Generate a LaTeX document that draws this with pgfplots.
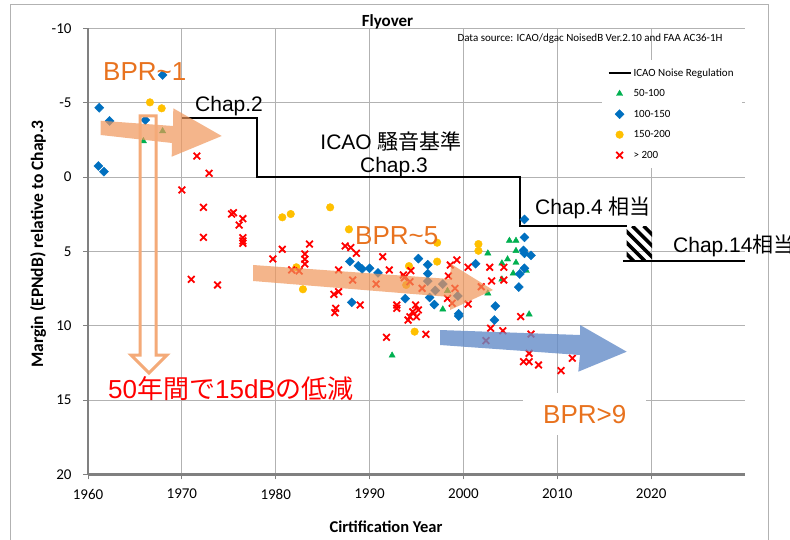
\documentclass[border=0pt]{standalone}
\usepackage{pgfplots}
\pgfplotsset{compat=1.18}
\usepackage{fontspec}
\setmainfont{Liberation Sans}
\newfontfamily\calibri{Carlito}
\newfontfamily\jp{Noto Sans CJK JP}
\definecolor{cgreen}{RGB}{0,176,80}
\definecolor{cblue}{RGB}{0,112,192}
\definecolor{cyellow}{RGB}{255,192,0}
\definecolor{cred}{RGB}{255,0,0}
\definecolor{bpr}{RGB}{232,114,30}
\definecolor{oarrow}{RGB}{240,150,90}
\definecolor{oline}{RGB}{244,170,120}
\definecolor{barrow}{RGB}{100,140,200}
\definecolor{gridc}{RGB}{178,178,178}
\definecolor{axc}{RGB}{128,128,128}
\begin{document}
\begin{tikzpicture}
\useasboundingbox (0,0) rectangle (790pt,539pt);
\fill[white] (0,0) rectangle (790pt,539pt);
\begin{scope}[x=1pt,y=-1pt,shift={(0pt,539pt)}]
\draw[gridc, line width=1pt] (10,5) rectangle (768,548);
\end{scope}
\begin{axis}[
 scale only axis, width=657pt, height=446.1pt,
 at={(88pt,64.6pt)}, anchor=south west,
 xmin=1960, xmax=2030, ymin=-10, ymax=20, y dir=reverse,
 xtick={1960,1970,...,2020}, ytick={-10,-5,...,20},
 grid=major, major grid style={draw=gridc, line width=0.9pt},
 axis x line*=bottom, axis y line*=left,
 axis line style={draw=axc, line width=2.2pt, -},
 tick style={draw=axc, line width=1pt},
 tick align=outside, major tick length=5pt,
 ticklabel style={font=\calibri\fontsize{15}{18}\selectfont},
 xticklabel style={yshift=-6pt},
 yticklabel style={xshift=-8pt},
 /pgf/number format/assume math mode=true,
 /pgf/number format/1000 sep={},
 clip=false,
 legend style={at={(axis cs:2014.7,-7.87)}, anchor=north west, draw=none, fill=white, inner sep=6pt, row sep=6.5pt, column sep=0pt, font=\calibri\fontsize{11}{13}\selectfont, nodes={inner sep=2pt, text height=8pt, text depth=2pt}},
 legend cell align=left,
 legend image code/.code={\draw[mark repeat=2,mark phase=2,#1] plot coordinates {(0pt,0pt) (11pt,0pt) (22pt,0pt)};},
]
\addplot[black, line width=2pt] coordinates {(1970,-4) (1978,-4) (1978,0) (2006,0) (2006,3.3) (2017.4,3.3)};
\addlegendentry{ICAO Noise Regulation}
\addplot[only marks, mark=triangle*, mark size=3.6pt, color=cgreen] table {
x y
1967.95 -3.09
1965.9 -2.42
1992.4 12.0
1997.8 8.9
1998.3 7.65
2004.9 4.28
2005.6 4.28
2002.6 5.13
2005.6 4.96
2004.1 5.80
2004.7 5.53
2005.6 5.76
2005.3 6.48
2006.7 6.30
2004.1 6.88
2002.6 7.82
2007.0 9.23
};
\addlegendentry{50-100}
\addplot[only marks, mark=square*, mark options={rotate=45}, mark size=3.2pt, color=cblue] table {
x y
1967.95 -6.86
1961.2 -4.66
1962.3 -3.77
1966.1 -3.83
1961.1 -0.74
1961.7 -0.36
1987.9 5.68
1988.8 5.98
1989.2 6.18
1990.0 6.14
1990.9 6.45
1988.1 8.43
1993.8 8.18
1995.2 5.49
1996.2 5.9
1996.2 6.5
1996.2 7.0
1997.0 7.63
1997.8 7.2
1996.4 8.1
1996.9 8.58
1999.4 8.0
1999.5 9.2
1999.5 9.35
2001.3 5.83
2003.4 8.68
2003.3 9.62
2006.5 2.85
2006.5 4.06
2006.4 4.93
2006.5 5.13
2007.2 5.27
2006.5 6.14
2006.0 6.52
2005.9 7.4
};
\addlegendentry{100-150}
\addplot[only marks, mark=*, mark size=3.8pt, color=cyellow] table {
x y
1966.6 -5.02
1967.85 -4.62
1980.7 2.71
1981.6 2.49
1985.8 2.04
1987.8 3.52
1982.2 6.07
1982.9 7.55
1994.2 5.99
1993.9 7.26
1997.2 4.42
1997.2 5.69
1994.8 10.4
2001.6 4.51
2001.6 4.96
};
\addlegendentry{150-200}
\addplot[only marks, mark=x, mark size=4.7pt, mark options={line width=1.8pt}, color=cred] table {
x y
1971.6 -1.41
1972.9 -0.25
1970.0 0.87
1972.3 2.04
1975.5 2.40
1975.3 2.49
1976.5 2.80
1976.1 3.23
1972.3 4.06
1976.5 4.08
1976.5 4.30
1976.5 4.46
1971.0 6.88
1973.8 7.26
1980.7 4.86
1983.6 4.51
1979.7 5.51
1983.1 5.18
1983.1 5.53
1983.1 5.85
1981.7 6.25
1982.5 6.32
1987.4 4.64
1988.0 4.75
1988.6 5.13
1986.7 6.25
1988.2 6.93
1986.2 7.89
1986.7 7.71
1986.4 8.83
1986.3 9.12
1989.0 8.61
1991.4 5.36
1992.1 6.25
1994.4 6.30
1993.6 6.59
1999.3 5.58
1998.6 5.92
1998.4 6.66
1990.7 7.20
1994.3 7.04
1995.6 7.49
1999.1 7.49
1998.3 8.16
1998.8 8.49
1992.9 8.61
1992.9 8.83
1994.9 8.61
1995.2 8.94
1994.6 9.06
1994.3 9.40
1994.1 9.62
1995.0 9.40
1996.0 10.58
1991.8 10.78
1993.7 6.77
2000.5 6.07
2002.8 6.07
2004.3 6.07
2003.0 6.99
2004.3 6.93
2001.9 7.38
2000.5 8.54
2006.1 9.39
2002.9 10.17
2004.2 10.34
2007.2 10.56
2002.4 11.0
2007.0 11.86
2006.4 12.42
2007.0 12.42
2008.0 12.64
2011.6 12.19
2010.4 13.02
};
\addlegendentry{> 200}
\addplot[black, line width=2pt, forget plot] coordinates {(2017.0,5.65) (2030,5.65)};
\begin{scope}
\clip (axis cs:2017.4,3.3) rectangle (axis cs:2020.1,5.65);
\draw[black, line width=3.5pt] (axis cs:2013.2,3.3) -- (axis cs:2016.93,5.65);
\draw[black, line width=3.5pt] (axis cs:2014.4,3.3) -- (axis cs:2018.13,5.65);
\draw[black, line width=3.5pt] (axis cs:2015.6,3.3) -- (axis cs:2019.33,5.65);
\draw[black, line width=3.5pt] (axis cs:2016.8,3.3) -- (axis cs:2020.53,5.65);
\draw[black, line width=3.5pt] (axis cs:2018.0,3.3) -- (axis cs:2021.73,5.65);
\draw[black, line width=3.5pt] (axis cs:2019.2,3.3) -- (axis cs:2022.93,5.65);
\end{scope}
\end{axis}
\begin{scope}[x=1pt,y=-1pt,shift={(0pt,539pt)}]
% arrows
\fill[oarrow, opacity=0.7] (100.7,120.7) -- (173,126) -- (173.3,108.3) -- (221.7,136) -- (171.7,156.7) -- (172,143) -- (100.7,135) -- cycle;
\draw[oline, line width=3pt, line join=miter] (140,116) -- (156,116) -- (156,355) -- (167,355) -- (149,373) -- (131,355) -- (140,355) -- cycle;
\fill[oarrow, opacity=0.7] (253,265) -- (450,279) -- (451,264) -- (493,290) -- (450,310) -- (450,297) -- (253,281) -- cycle;
\fill[barrow, opacity=0.8] (440,330) -- (580,335) -- (580,325) -- (626.7,351.7) -- (578.3,371.7) -- (580,355) -- (440,345) -- cycle;
% texts
\node[anchor=base, font=\calibri\bfseries\fontsize{17}{20}\selectfont, inner sep=0pt] at (387.5,26.5) {Flyover};
\node[anchor=base, font=\calibri\fontsize{11}{13}\selectfont, inner sep=0pt] at (590,42) {Data source: ICAO/dgac NoisedB Ver.2.10 and FAA AC36-1H};
\node[anchor=base, font=\calibri\bfseries\fontsize{16.5}{20}\selectfont, inner sep=0pt] at (386,532) {Cirtification Year};
\node[rotate=90, font=\calibri\bfseries\fontsize{17.5}{20}\selectfont, inner sep=0pt] at (38,244) {Margin (EPNdB) relative to Chap.3};
\node[anchor=base west, text=bpr, font=\fontsize{26}{30}\selectfont, inner sep=0pt] at (103,80.7) {BPR\textasciitilde 1};
\node[anchor=base west, text=bpr, font=\fontsize{26}{30}\selectfont, inner sep=0pt] at (355,245) {BPR\textasciitilde 5};
\node[anchor=base west, text=bpr, font=\fontsize{26}{30}\selectfont, fill=white, inner xsep=20pt, inner ysep=12pt] at (523,423) {BPR>9};
\node[anchor=base west, font=\fontsize{21}{25}\selectfont, inner sep=0pt] at (195,111.7) {Chap.2};
\node[anchor=base, font=\fontsize{21}{25}\selectfont, inner sep=0pt] at (391,150) {ICAO {\jp 騒音基準}};
\node[anchor=base, font=\fontsize{21}{25}\selectfont, inner sep=0pt] at (394,172.3) {Chap.3};
\node[anchor=base west, font=\fontsize{21}{25}\selectfont, inner sep=0pt] at (535,215) {Chap.4 {\jp 相当}};
\node[anchor=base west, font=\fontsize{21}{25}\selectfont, inner sep=0pt] at (673,252.7) {Chap.14{\jp 相当}};
\node[anchor=base west, text=cred, font=\fontsize{26}{30}\selectfont, inner sep=0pt] at (108,398) {50{\jp 年間で}15dB{\jp の低減}};
\end{scope}
\end{tikzpicture}
\end{document}
